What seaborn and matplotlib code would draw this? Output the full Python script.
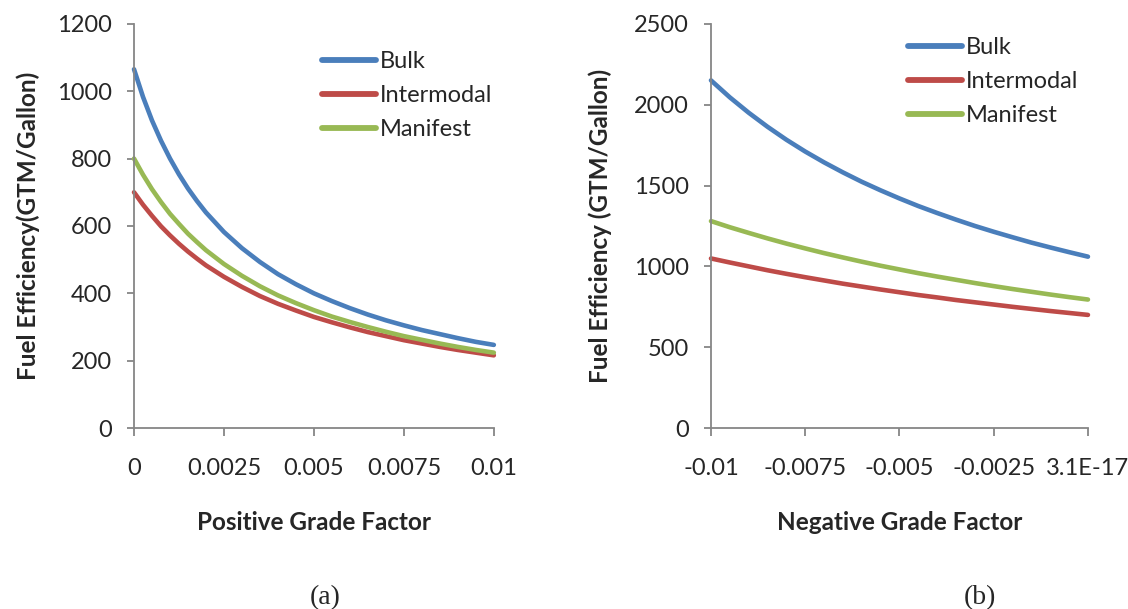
import numpy as np
import pandas as pd
import matplotlib
matplotlib.use("Agg")
import matplotlib.pyplot as plt
import seaborn as sns

# grade factor sample points (denser where (a) bends sharply)
pos_grade = [0, 0.00025, 0.0005, 0.00075, 0.001, 0.00125, 0.0015, 0.00175, 0.002, 0.0025, 0.003,
             0.0035, 0.004, 0.0045, 0.005, 0.0055, 0.006, 0.0065, 0.007, 0.0075, 0.008,
             0.0085, 0.009, 0.0095, 0.01]
neg_grade = [-0.01, -0.0095, -0.009, -0.0085, -0.008, -0.0075, -0.007, -0.0065, -0.006, -0.0055, -0.005,
             -0.0045, -0.004, -0.0035, -0.003, -0.0025, -0.002, -0.0015, -0.001, -0.0005, 0]

# (a) fuel efficiency, positive grade
pos_bulk = [1065, 983, 913, 853, 800, 753, 711, 674, 640, 582, 534,
            493, 457, 427, 400, 377, 356, 337, 320, 305, 291,
            279, 267, 256, 247]
pos_intermodal = [700, 663, 630, 599, 572, 547, 524, 503, 483, 449, 419,
                  392, 369, 349, 330, 314, 299, 285, 273, 261, 251,
                  241, 232, 224, 216]
pos_manifest = [800, 752, 709, 671, 636, 606, 577, 552, 528, 487, 452,
                421, 394, 371, 350, 331, 315, 300, 286, 273, 262,
                251, 241, 232, 224]

# (b) fuel efficiency, negative grade
neg_bulk = [2150, 2045, 1950, 1863, 1783, 1710, 1643, 1581, 1523, 1470, 1420,
            1373, 1330, 1289, 1250, 1214, 1180, 1147, 1117, 1088, 1060]
neg_intermodal = [1049, 1024, 1000, 976, 954, 933, 913, 893, 875, 857, 840,
                  823, 808, 792, 778, 764, 750, 737, 724, 712, 700]
neg_manifest = [1280, 1242, 1207, 1173, 1141, 1111, 1082, 1055, 1029, 1004, 981,
                958, 937, 917, 897, 878, 860, 843, 826, 810, 795]

train_types = ["Bulk", "Intermodal", "Manifest"]
colors = {"Bulk": "#4A7EBB", "Intermodal": "#BE4B48", "Manifest": "#98B954"}

pos_ticks = [0, 0.0025, 0.005, 0.0075, 0.01]
pos_ticklabels = ["0", "0.0025", "0.005", "0.0075", "0.01"]
neg_ticks = [-0.01, -0.0075, -0.005, -0.0025, 0]
neg_ticklabels = ["-0.01", "-0.0075", "-0.005", "-0.0025", "3.1E-17"]


def long_frame(grade, series):
    rows = []
    for name, vals in zip(train_types, series):
        for g, v in zip(grade, vals):
            rows.append({"grade": g, "fe": v, "type": name})
    return pd.DataFrame(rows)


df_pos = long_frame(pos_grade, [pos_bulk, pos_intermodal, pos_manifest])
df_neg = long_frame(neg_grade, [neg_bulk, neg_intermodal, neg_manifest])

sns.set_style("white")
plt.rcParams["font.family"] = ["Lato", "DejaVu Sans"]
axis_gray = "#868686"

fig = plt.figure(figsize=(11.28, 6.09), dpi=100)
ax_a = fig.add_axes([0.1188, 0.297, 0.319, 0.664])
ax_b = fig.add_axes([0.6303, 0.297, 0.3342, 0.664])

panels = [
    (ax_a, df_pos, (0, 0.01), (0, 1200), np.arange(0, 1201, 200), pos_ticks, pos_ticklabels,
     "Positive Grade Factor", "Fuel Efficiency(GTM/Gallon)", (0.495, 0.955)),
    (ax_b, df_neg, (-0.01, 0), (0, 2500), np.arange(0, 2501, 500), neg_ticks, neg_ticklabels,
     "Negative Grade Factor", "Fuel Efficiency (GTM/Gallon)", (0.497, 0.99)),
]

for ax, df, xlim, ylim, yticks, xticks, xticklabels, xlabel, ylabel, leg_pos in panels:
    sns.lineplot(data=df, x="grade", y="fe", hue="type", hue_order=train_types,
                 palette=colors, linewidth=3.3, ax=ax, legend=False)
    ax.set_xlim(*xlim)
    ax.set_ylim(*ylim)
    ax.set_yticks(yticks)
    ax.set_xticks(xticks)
    ax.set_xticklabels(xticklabels)
    for s in ["top", "right"]:
        ax.spines[s].set_visible(False)
    for s in ["left", "bottom"]:
        ax.spines[s].set_color(axis_gray)
        ax.spines[s].set_linewidth(1.3)
        ax.spines[s].set_clip_on(False)
    ax.tick_params(axis="y", direction="out", length=5, width=1.3, color=axis_gray,
                   pad=11, labelsize=17, left=True)
    ax.tick_params(axis="x", direction="out", length=5.5, width=1.3, color=axis_gray,
                   pad=16, labelsize=17, bottom=True)
    ax.set_xlabel(xlabel, fontsize=17.5, fontweight="bold")
    ax.set_ylabel(ylabel, fontsize=17.5, fontweight="bold")
    ax.xaxis.set_label_coords(0.5, -0.205)
    ax.yaxis.set_label_coords(-0.262, 0.5)
    for line in ax.get_lines():
        line.set_clip_on(False)
        line.set_solid_capstyle("round")
        line.set_solid_joinstyle("round")

    handles = [plt.Line2D([], [], color=colors[t], linewidth=4.2, solid_capstyle="round")
               for t in train_types]
    ax.legend(handles, train_types, loc="upper left", bbox_to_anchor=leg_pos, frameon=False,
              fontsize=17, handlelength=2.3, handletextpad=0.15, labelspacing=0.55,
              borderaxespad=0)

fig.text(0.288, 0.008, "(a)", family=["Liberation Serif"], fontsize=20, ha="center")
fig.text(0.869, 0.008, "(b)", family=["Liberation Serif"], fontsize=20, ha="center")

fig.savefig("out.png", dpi=100)
